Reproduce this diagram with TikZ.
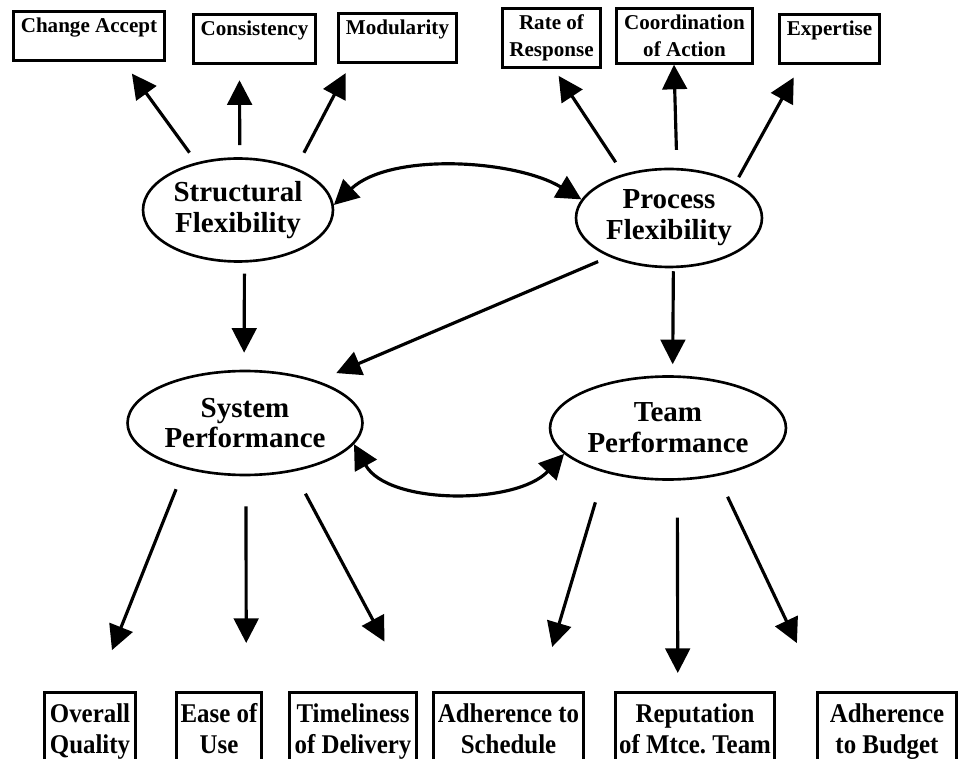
\documentclass[tikz,border=0pt]{standalone}
\usepackage{fontspec}
\setmainfont{Liberation Serif}
\newfontfamily\narrowfont{Liberation Serif}[FakeStretch=0.92]
\usetikzlibrary{arrows.meta,shapes.geometric}

\begin{document}
\begin{tikzpicture}[x=0.02cm,y=0.02cm,>={Triangle[length=14pt,width=14pt]}]
		\tikzstyle{factor}=[ellipse, draw=black, line width=1.5pt, inner sep=0pt, align=center, font=\fontsize{16.5}{17.5}\selectfont\bfseries]
		\tikzstyle{indicator}=[rectangle, draw=black, line width=1.7pt, inner xsep=0pt, inner ysep=3.7pt, anchor=north, align=center, font=\fontsize{12}{15.3}\selectfont\bfseries]
		\tikzstyle{outcome}=[rectangle, draw=black, line width=1.7pt, inner sep=0pt, anchor=north, minimum height=1.56cm, align=center, font=\narrowfont\fontsize{15.4}{17.6}\selectfont\bfseries]
		\tikzstyle{link}=[->, line width=1.8pt]
		\tikzstyle{both link}=[<->, line width=1.8pt]

		\useasboundingbox (0,0) rectangle (960,758);
		\clip (0,0) rectangle (960,758);

		\node [factor, minimum width=3.8cm, minimum height=2.06cm] (sflex) at (238,548) {Structural\\Flexibility};
		\node [factor, minimum width=3.72cm, minimum height=1.96cm] (pflex) at (669,540) {Process\\Flexibility};
		\node [factor, minimum width=4.7cm, minimum height=2.08cm] (sperf) at (245,335) {System\\Performance};
		\node [factor, minimum width=4.72cm, minimum height=2.06cm] (tperf) at (668,330) {Team\\Performance};

		\node [indicator, minimum width=3.02cm] (accept) at (89,748) {Change Accept\\[-3pt]~};
		\node [indicator, minimum width=2.44cm] (consist) at (254.5,745) {Consistency\\[-3pt]~};
		\node [indicator, minimum width=2.36cm] (modular) at (397.5,746) {Modularity\\[-3pt]~};
		\node [indicator, minimum width=1.96cm] (rate) at (551.5,751) {Rate of\\Response};
		\node [indicator, minimum width=2.72cm] (coord) at (684.5,751) {Coordination\\of Action};
		\node [indicator, minimum width=2.0cm] (expert) at (829.5,745) {Expertise\\[-3pt]~};

		\node [outcome, minimum width=1.82cm] (quality) at (90,67) {\strut Overall\\\strut Quality};
		\node [outcome, minimum width=1.7cm] (ease) at (219,67) {\strut Ease of\\\strut Use};
		\node [outcome, minimum width=2.54cm] (timely) at (353,67) {\strut Timeliness\\\strut of Delivery};
		\node [outcome, minimum width=3.0cm] (schedule) at (508.5,67) {\strut Adherence to\\\strut Schedule};
		\node [outcome, minimum width=3.18cm] (reputation) at (695,67) {\strut Reputation\\\strut of Mtce.\ Team};
		\node [outcome, minimum width=2.78cm] (budget) at (887,67) {\strut Adherence\\\strut to Budget};

		\draw [link, shorten <=0.24cm, shorten >=0.28cm] (sflex.131) -- (accept.323);
		\draw [link, shorten <=0.24cm, shorten >=0.3cm] (sflex.88) -- (consist.240);
		\draw [link, shorten <=0.34cm, shorten >=0.2cm] (sflex.36) -- (modular.209);
		\draw [link, shorten <=0.28cm, shorten >=0.16cm] (pflex.136) -- (rate.275);
		\draw [link, shorten <=0.36cm] (pflex.81) -- (coord.250);
		\draw [link, shorten <=0.12cm, shorten >=0.28cm] (pflex.28) -- (expert.222);

		\draw [link, shorten <=0.22cm, shorten >=0.34cm] (sflex.277) -- (sperf.91);
		\draw [link, shorten <=0.24cm, shorten >=0.4cm] (pflex.213) -- (sperf.30);
		\draw [link, shorten <=0.06cm, shorten >=0.22cm] (pflex.275) -- (tperf.85);
		\draw [both link] (sflex.3) to [out=43, in=149, looseness=0.8] (pflex.168);
		\draw [both link] (sperf.349) to [out=-61, in=227, looseness=0.85] (tperf.194);

		\draw [link, shorten <=0.44cm, shorten >=0.88cm] (sperf.217) -- (quality.82);
		\draw [link, shorten <=0.6cm, shorten >=0.96cm] (sperf.271) -- (ease.56);
		\draw [link, shorten <=0.5cm, shorten >=1.12cm] (sperf.315) -- (timely.35);
		\draw [link, shorten <=0.62cm, shorten >=0.92cm] (tperf.215) -- (schedule.53);
		\draw [link, shorten <=0.74cm, shorten >=0.36cm] (tperf.280) -- (reputation.113);
		\draw [link, shorten <=0.46cm, shorten >=1.06cm] (tperf.316) -- (budget.149);
	\end{tikzpicture}
\end{document}
